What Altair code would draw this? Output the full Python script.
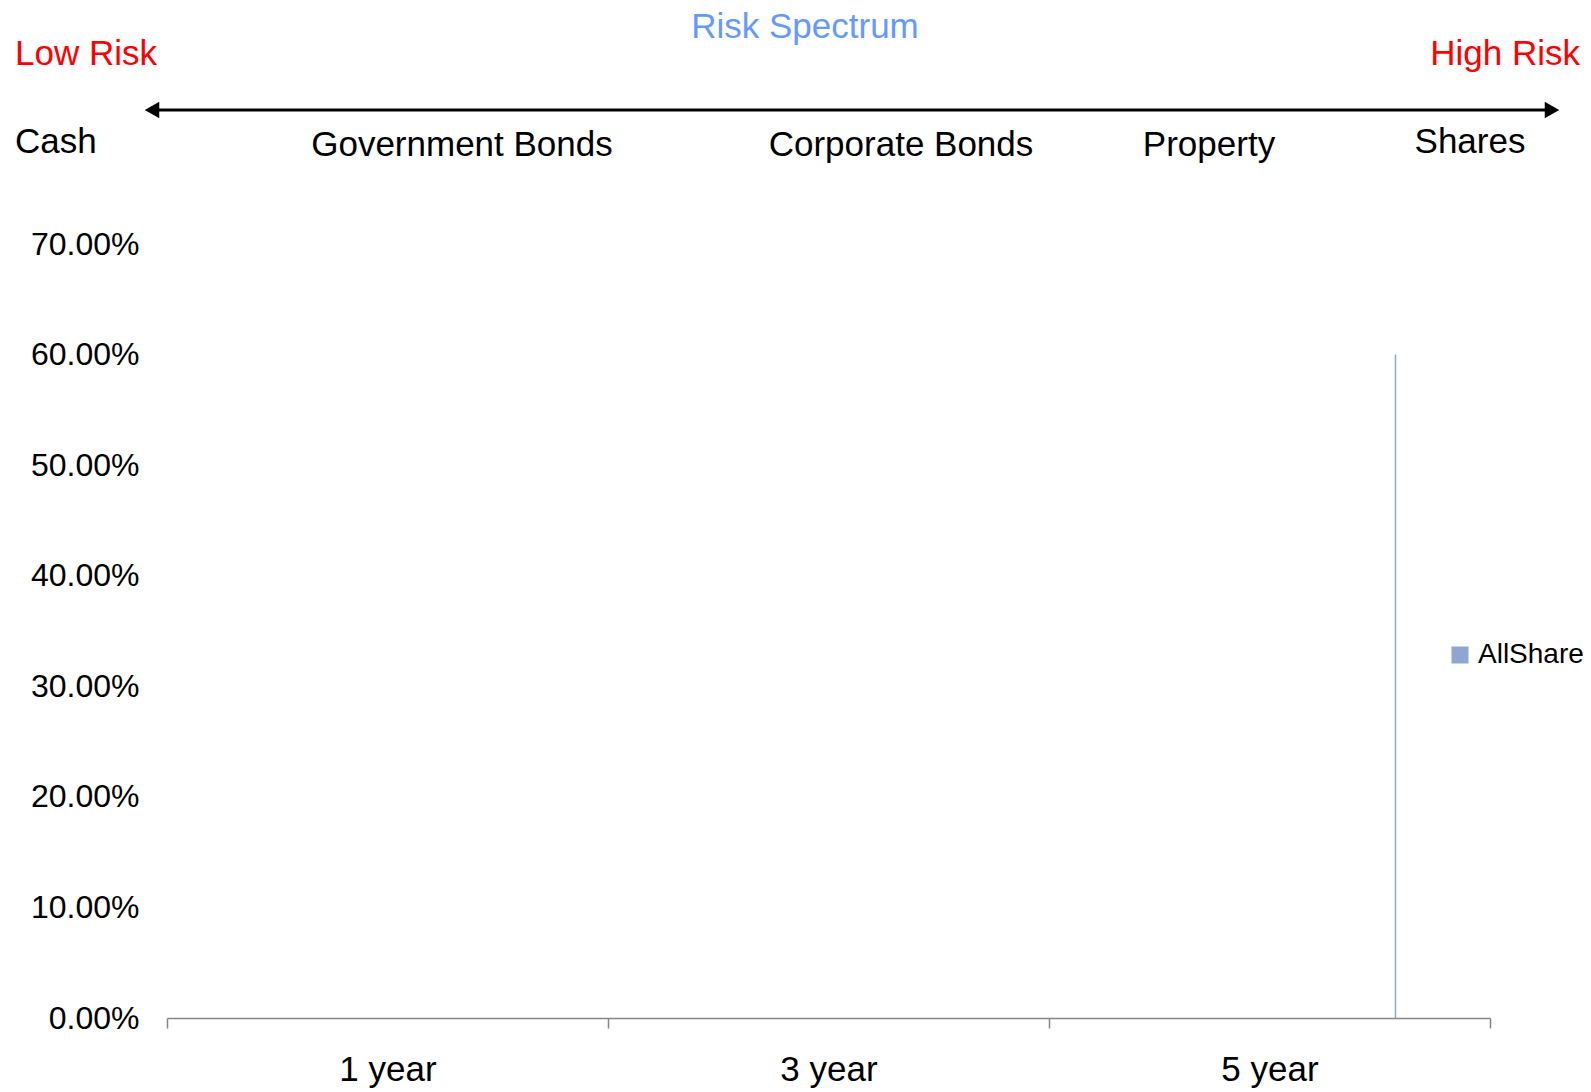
import altair as alt
import pandas as pd

# ---- data ----
periods = ["1 year", "3 year", "5 year"]
series_name = "AllShare"
allshare_values = [0.0, 0.0, 0.60]
asset_classes = ["Cash", "Government Bonds", "Corporate Bonds", "Property", "Shares"]
y_ticks = [0.0, 0.1, 0.2, 0.3, 0.4, 0.5, 0.6, 0.7]
title_text = "Risk Spectrum"
low_text = "Low Risk"
high_text = "High Risk"

df = pd.DataFrame({"period": periods, "value": allshare_values, "series": [series_name] * len(periods)})

FONT = "Liberation Sans"
BAR_COLOR = "#8FA6D0"

bars = alt.Chart(df).mark_bar(size=1.5, xOffset=126).encode(
    x=alt.X(
        "period:N",
        sort=periods,
        scale=alt.Scale(paddingInner=0, paddingOuter=0),
        axis=alt.Axis(
            title=None,
            labelAngle=0,
            labelFontSize=35,
            labelFont=FONT,
            labelColor="black",
            labelPadding=24,
            domainColor="#868686",
            domainWidth=1.5,
            tickColor="#868686",
            tickWidth=1.5,
            tickSize=10,
            tickBand="extent",
            grid=False,
        ),
    ),
    y=alt.Y(
        "value:Q",
        scale=alt.Scale(domain=[0, 0.7], nice=False),
        axis=alt.Axis(
            title=None,
            values=y_ticks,
            format=".2%",
            labelFontSize=32,
            labelFont=FONT,
            labelColor="black",
            labelPadding=28,
            domain=False,
            ticks=False,
            grid=False,
        ),
    ),
    color=alt.Color(
        "series:N",
        scale=alt.Scale(domain=[series_name], range=[BAR_COLOR]),
        legend=alt.Legend(
            title=None,
            orient="none",
            legendX=1279,
            legendY=397,
            symbolType="square",
            symbolSize=290,
            symbolStrokeWidth=0,
            labelFont=FONT,
            labelFontSize=28,
            labelColor="black",
            labelOffset=4,
            padding=0,
        ),
    ),
)

one = alt.Data(values=[{}])


def txt(text, x, y, color="black", size=35, align="center"):
    return alt.Chart(one).mark_text(
        text=text, font=FONT, fontSize=size, color=color, align=align, baseline="middle"
    ).encode(x=alt.value(x), y=alt.value(y))


texts = [
    txt(title_text, 638, -217, color="#6699FF", size=35),
    txt(low_text, -152, -190, color="#FF0000", size=35, align="left"),
    txt(high_text, 1413, -190, color="#FF0000", size=35, align="right"),
    txt(asset_classes[0], -152, -102, align="left"),
    txt(asset_classes[1], 295, -99),
    txt(asset_classes[2], 734, -99),
    txt(asset_classes[3], 1042, -99),
    txt(asset_classes[4], 1303, -102),
]

arrow_line = alt.Chart(one).mark_rule(color="black", strokeWidth=3).encode(
    x=alt.value(-15), x2=alt.value(1385), y=alt.value(-134)
)
arrow_left = alt.Chart(one).mark_point(
    shape="triangle-left", filled=True, color="black", size=280, opacity=1
).encode(x=alt.value(-15), y=alt.value(-134))
arrow_right = alt.Chart(one).mark_point(
    shape="triangle-right", filled=True, color="black", size=280, opacity=1
).encode(x=alt.value(1385), y=alt.value(-134))

chart = alt.layer(bars, arrow_line, arrow_left, arrow_right, *texts).properties(
    width=1323,
    height=774,
    autosize=alt.AutoSizeParams(type="none"),
    padding={"left": 167, "top": 244, "right": 101, "bottom": 74},
    background="white",
).configure_view(stroke=None)

chart.save("out.html", embed_options={"renderer": "svg", "actions": False})
